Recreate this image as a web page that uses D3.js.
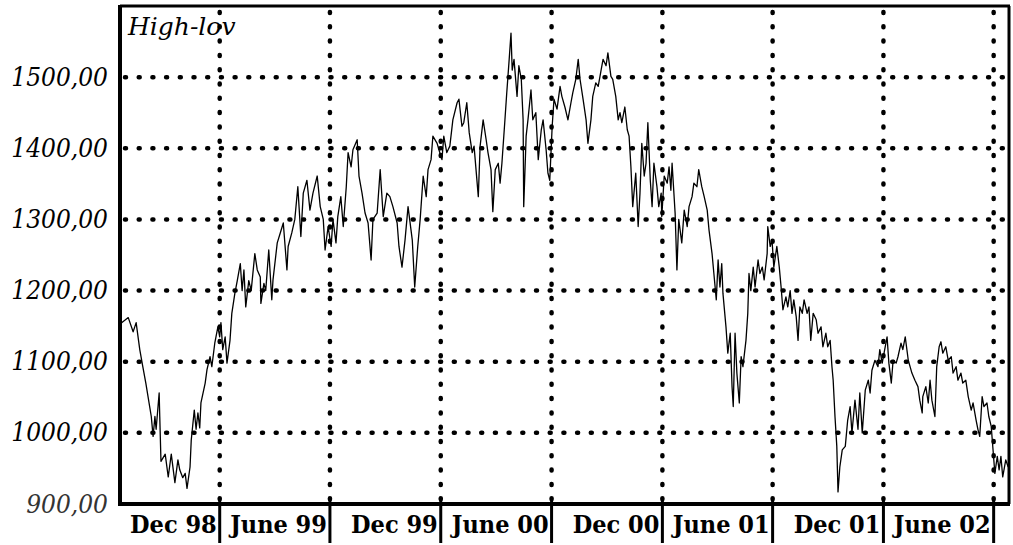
<!DOCTYPE html>
<html>
<head>
<meta charset="utf-8">
<script src="https://cdn.jsdelivr.net/npm/d3@7.8.5/dist/d3.min.js"></script>
<style>
  html, body { margin: 0; padding: 0; background: #fff; }
  svg { display: block; }
</style>
</head>
<body>
<div id="chart"></div>
<script>
// series: days after startDate, index level
const startDate = '1998-06-21';
const endDate = '2002-06-28';

const dayOffsets = [
  0, 12, 20, 25, 31, 36, 41, 50, 53, 56, 58, 63, 64, 66, 73, 78, 83, 89, 94, 97,
  102, 106, 109, 114, 116, 121, 124, 127, 130, 132, 139, 142, 147, 150, 155, 160, 163, 165, 168, 172,
  175, 180, 183, 188, 192, 197, 200, 203, 206, 211, 215, 221, 225, 230, 231, 236, 239, 244, 249, 251,
  258, 263, 268, 274, 276, 282, 287, 292, 297, 301, 307, 312, 317, 324, 329, 334, 337, 342, 347, 350,
  355, 358, 363, 367, 372, 375, 380, 383, 390, 393, 398, 403, 408, 413, 416, 423, 428, 433, 439, 444,
  449, 456, 459, 464, 469, 474, 481, 485, 490, 494, 499, 504, 507, 512, 515, 522, 525, 530, 533, 538,
  543, 548, 555, 558, 563, 566, 571, 575, 580, 583, 590, 593, 598, 603, 606, 611, 614, 618, 623, 626,
  629, 634, 637, 641, 644, 646, 649, 654, 657, 661, 664, 665, 669, 672, 677, 680, 685, 689, 694, 697,
  702, 705, 708, 712, 715, 720, 725, 728, 733, 738, 743, 746, 751, 755, 758, 763, 768, 771, 776, 779,
  784, 788, 793, 796, 801, 804, 809, 812, 817, 821, 824, 827, 832, 836, 839, 842, 845, 850, 854, 857,
  860, 864, 867, 870, 874, 877, 880, 885, 888, 892, 893, 897, 902, 905, 908, 910, 915, 918, 921, 926,
  930, 935, 938, 943, 946, 951, 954, 959, 963, 968, 971, 976, 979, 983, 986, 989, 992, 994, 999, 1002,
  1006, 1009, 1011, 1014, 1017, 1021, 1024, 1027, 1032, 1035, 1037, 1040, 1044, 1047, 1052, 1055, 1059, 1062, 1067, 1068,
  1072, 1075, 1078, 1083, 1087, 1090, 1093, 1098, 1101, 1105, 1108, 1111, 1115, 1118, 1121, 1125, 1128, 1133, 1136, 1139,
  1143, 1148, 1151, 1156, 1159, 1164, 1167, 1171, 1174, 1176, 1179, 1182, 1184, 1187, 1191, 1196, 1200, 1204, 1207, 1212,
  1217, 1220, 1224, 1229, 1234, 1237, 1240, 1245, 1250, 1253, 1257, 1260, 1265, 1268, 1272, 1275, 1280, 1283, 1288, 1291,
  1295, 1300, 1303, 1306, 1311, 1316, 1319, 1323, 1324, 1329, 1333, 1336, 1339, 1344, 1347, 1351, 1354, 1357, 1362, 1366,
  1371, 1374, 1379, 1382, 1387, 1390, 1395, 1399, 1404, 1407, 1412, 1415, 1418, 1422, 1425, 1430, 1433, 1437, 1440, 1443,
  1447, 1450, 1453, 1456, 1461, 1465
];

const highLow = [
  1154, 1162, 1142, 1155, 1117, 1093, 1070, 1023, 995, 1023, 1005, 1056, 1023, 960, 970, 938, 970, 930, 962, 948,
  937, 943, 922, 952, 990, 1032, 1005, 1028, 1007, 1042, 1070, 1089, 1107, 1093, 1127, 1149, 1135, 1155, 1117, 1135,
  1098, 1130, 1168, 1196, 1214, 1238, 1200, 1229, 1177, 1214, 1200, 1252, 1229, 1219, 1182, 1210, 1200, 1257, 1187, 1215,
  1267, 1281, 1295, 1229, 1262, 1281, 1300, 1346, 1276, 1337, 1355, 1313, 1337, 1361, 1318, 1300, 1257, 1290, 1262, 1300,
  1267, 1304, 1332, 1290, 1346, 1394, 1374, 1398, 1412, 1361, 1337, 1309, 1295, 1243, 1300, 1309, 1370, 1304, 1337, 1332,
  1318, 1295, 1262, 1233, 1271, 1318, 1271, 1205, 1262, 1300, 1361, 1332, 1370, 1384, 1417, 1407, 1398, 1384, 1417, 1394,
  1403, 1440, 1464, 1469, 1431, 1436, 1464, 1422, 1394, 1403, 1332, 1403, 1440, 1412, 1394, 1370, 1311, 1370, 1379, 1351,
  1379, 1440, 1478, 1525, 1562, 1510, 1525, 1473, 1516, 1497, 1440, 1318, 1417, 1440, 1482, 1440, 1450, 1384, 1426, 1440,
  1398, 1365, 1355, 1431, 1469, 1455, 1487, 1473, 1458, 1440, 1464, 1478, 1497, 1525, 1497, 1469, 1440, 1407, 1440, 1473,
  1492, 1487, 1511, 1525, 1516, 1534, 1501, 1497, 1473, 1440, 1450, 1436, 1458, 1426, 1417, 1374, 1318, 1365, 1290, 1337,
  1407, 1361, 1379, 1436, 1355, 1318, 1379, 1346, 1318, 1337, 1304, 1361, 1351, 1374, 1341, 1379, 1309, 1229, 1300, 1267,
  1313, 1290, 1318, 1332, 1351, 1346, 1370, 1346, 1332, 1313, 1285, 1252, 1224, 1187, 1243, 1205, 1238, 1196, 1149, 1112,
  1140, 1065, 1037, 1140, 1084, 1042, 1107, 1093, 1130, 1168, 1224, 1200, 1233, 1205, 1243, 1224, 1233, 1215, 1252, 1290,
  1262, 1271, 1233, 1262, 1233, 1205, 1173, 1191, 1177, 1200, 1168, 1187, 1163, 1130, 1177, 1168, 1187, 1168, 1177, 1130,
  1168, 1159, 1140, 1149, 1121, 1140, 1121, 1130, 1093, 1074, 1023, 981, 917, 952, 976, 981, 1018, 1037, 1000, 1046,
  1005, 1056, 1000, 1060, 1074, 1056, 1088, 1102, 1093, 1117, 1098, 1112, 1135, 1098, 1070, 1102, 1098, 1107, 1126, 1117,
  1135, 1102, 1093, 1084, 1074, 1065, 1046, 1028, 1051, 1065, 1042, 1074, 1046, 1023, 1093, 1121, 1128, 1112, 1121, 1102,
  1107, 1084, 1093, 1074, 1084, 1070, 1074, 1051, 1032, 1042, 1018, 1005, 995, 1051, 1037, 1042, 1023, 1009, 976, 943,
  967, 948, 967, 938, 962, 952
];

const tickDates = ['1998-12-01', '1999-06-01', '1999-12-01', '2000-06-01', '2000-12-01', '2001-06-01', '2001-12-01', '2002-06-01'];
const tickLabels = ['Dec 98', 'June 99', 'Dec 99', 'June 00', 'Dec 00', 'June 01', 'Dec 01', 'June 02'];
const yTicks = [900, 1000, 1100, 1200, 1300, 1400, 1500];
const yDomain = [900, 1600];
const seriesLabel = 'High-lov';

const width = 1013;
const height = 545;
const margin = { top: 6, right: 3, bottom: 41, left: 120 };

const parse = d3.utcParse('%Y-%m-%d');
const t0 = parse(startDate);
const data = dayOffsets.map((d, i) => ({
  date: d3.utcDay.offset(t0, d),
  value: highLow[i]
}));

const x = d3.scaleUtc()
  .domain([t0, parse(endDate)])
  .range([margin.left + 1, width - margin.right]);

const y = d3.scaleLinear()
  .domain(yDomain)
  .range([height - margin.bottom, margin.top]);

const svg = d3.select('#chart').append('svg')
  .attr('width', width)
  .attr('height', height);

// dotted grid
const grid = svg.append('g');
grid.selectAll('.hgrid')
  .data(yTicks.slice(1))
  .enter().append('line')
  .attr('x1', margin.left + 5)
  .attr('x2', width)
  .attr('y1', d => y(d))
  .attr('y2', d => y(d))
  .attr('stroke', '#000')
  .attr('stroke-width', 4.5)
  .attr('stroke-linecap', 'round')
  .attr('stroke-dasharray', '1 12.7');

grid.selectAll('.vgrid')
  .data(tickDates)
  .enter().append('line')
  .attr('x1', d => x(parse(d)))
  .attr('x2', d => x(parse(d)))
  .attr('y1', margin.top + 6)
  .attr('y2', height - margin.bottom)
  .attr('stroke', '#000')
  .attr('stroke-width', 4.5)
  .attr('stroke-linecap', 'round')
  .attr('stroke-dasharray', '1 13.3');

// price line
svg.append('path')
  .datum(data)
  .attr('fill', 'none')
  .attr('stroke', '#000')
  .attr('stroke-width', 1.3)
  .attr('stroke-linejoin', 'round')
  .attr('d', d3.line().x(d => x(d.date)).y(d => y(d.value)));

// frame
const frame = svg.append('g').attr('stroke', '#000').attr('fill', 'none');
frame.append('line')
  .attr('x1', margin.left).attr('x2', margin.left)
  .attr('y1', margin.top - 1).attr('y2', height - margin.bottom + 2)
  .attr('stroke-width', 4);
frame.append('line')
  .attr('x1', margin.left - 2).attr('x2', width - margin.right)
  .attr('y1', height - margin.bottom).attr('y2', height - margin.bottom)
  .attr('stroke-width', 4);
frame.append('line')
  .attr('x1', margin.left).attr('x2', width - margin.right)
  .attr('y1', margin.top).attr('y2', margin.top)
  .attr('stroke-width', 3);
frame.append('line')
  .attr('x1', width - margin.right - 1).attr('x2', width - margin.right - 1)
  .attr('y1', margin.top).attr('y2', height - margin.bottom)
  .attr('stroke-width', 3);

// x axis: solid ticks running through the labels
const xAxis = svg.append('g');
xAxis.selectAll('.tick')
  .data(tickDates)
  .enter().append('line')
  .attr('x1', d => x(parse(d)))
  .attr('x2', d => x(parse(d)))
  .attr('y1', height - margin.bottom - 7)
  .attr('y2', height - 2)
  .attr('stroke', '#000')
  .attr('stroke-width', 3);

xAxis.selectAll('.label')
  .data(tickDates)
  .enter().append('text')
  .attr('x', d => x(parse(d)) - 3)
  .attr('y', height - 12)
  .attr('text-anchor', 'end')
  .style('font-family', '"DejaVu Serif Condensed", "DejaVu Serif", serif')
  .style('font-weight', 'bold')
  .style('font-size', '25px')
  .style('fill', '#000')
  .text((d, i) => tickLabels[i]);

// y axis labels
svg.append('g').selectAll('text')
  .data(yTicks)
  .enter().append('text')
  .attr('x', 108)
  .attr('y', d => y(d))
  .attr('dy', '0.33em')
  .attr('text-anchor', 'end')
  .style('font-family', '"DejaVu Serif Condensed", "DejaVu Serif", serif')
  .style('font-style', 'italic')
  .style('font-size', '26px')
  .style('fill', d => d === yDomain[0] ? '#333' : '#000')
  .text(d => d3.format('.2f')(d).replace('.', ','));

svg.append('text')
  .attr('x', 128)
  .attr('y', 35)
  .style('font-family', '"DejaVu Serif", serif')
  .style('font-style', 'italic')
  .style('font-size', '25px')
  .style('fill', '#000')
  .text(seriesLabel);
</script>
</body>
</html>
